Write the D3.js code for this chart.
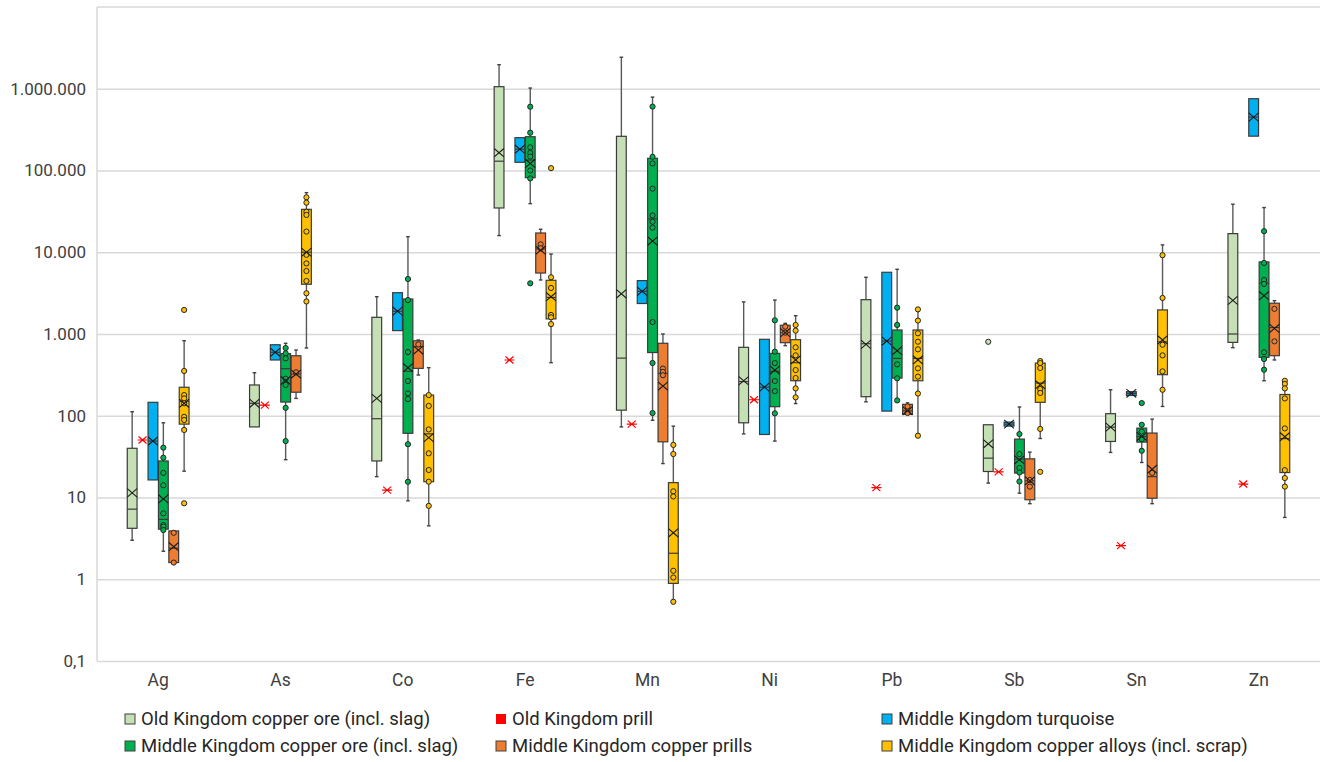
<!DOCTYPE html>
<html>
<head>
<meta charset="utf-8">
<script src="https://cdn.jsdelivr.net/npm/d3@7"></script>
<style>
  body { margin: 0; background: #fff; }
  svg { font-family: Roboto, "Noto Sans", sans-serif; }
</style>
</head>
<body>
<script>
// elements on the x axis
const categories = ["Ag", "As", "Co", "Fe", "Mn", "Ni", "Pb", "Sb", "Sn", "Zn"];
const yTicks = [0.1, 1, 10, 100, 1000, 10000, 100000, 1000000];

const seriesNames = [
    "Old Kingdom copper ore (incl. slag)",
    "Old Kingdom prill",
    "Middle Kingdom turquoise",
    "Middle Kingdom copper ore (incl. slag)",
    "Middle Kingdom copper prills",
    "Middle Kingdom copper alloys (incl. scrap)"
];
const seriesColors = ["#c5e0b4", "#ff0000", "#00b0f0", "#00b050", "#ed7d31", "#ffc000"];

// box stats per element: [min, q1, median, q3, max, mean]
const oldOreBox = [
    [3, 4.2, 7.2, 40, 112, 11.4],
    [73, 73, 142, 238, 336, 142],
    [18, 28, 92, 1600, 2860, 163],
    [16000, 34800, 130000, 1060000, 1970000, 165000],
    [73, 117, 507, 262000, 2430000, 3100],
    [60, 82, 262, 687, 2470, 268],
    [148, 171, 760, 2630, 4940, 747],
    [15, 20.8, 30.3, 77.6, 77.6, 45.4],
    [35.6, 48.5, 72.6, 106, 208, 72.6],
    [680, 790, 1000, 16900, 38700, 2580]
];
const oldOrePoints = [[], [], [], [], [], [], [], [803], [], []];

// single prill values
const oldPrill = [50.5, 135, 12.3, 481, 79, 157, 13.2, 20.6, 2.58, 14.6];

const turquoiseBox = [
    [16.4, 16.4, 49, 146, 146, 49],
    [481, 481, 597, 739, 739, 597],
    [1100, 1100, 1900, 3200, 3200, 1900],
    [126000, 126000, 182000, 252000, 252000, 182000],
    [2360, 2360, 3330, 4500, 4500, 3330],
    [59, 59, 224, 861, 861, 224],
    [114, 114, 820, 5690, 5690, 820],
    [74.7, 74.7, 79, 83.6, 83.6, 79],
    [177, 177, 188, 197, 197, 188],
    [263000, 263000, 450000, 755000, 755000, 450000]
];
const turquoisePoints = [[], [], [], [], [], [], [], [], [], []];

const mkOreBox = [
    [2.2, 4.1, 5.4, 28, 82, 9.6],
    [29, 147, 376, 575, 770, 270],
    [9.1, 61, 350, 2680, 15500, 387],
    [39300, 81700, 134000, 259000, 1020000, 122000],
    [88, 593, 25600, 141000, 790000, 13700],
    [49, 129, 350, 580, 2600, 362],
    [154, 289, 503, 1120, 6190, 625],
    [11.3, 19.9, 29.5, 51.8, 128, 28.9],
    [26.8, 47.6, 55.8, 70.6, 77.6, 55.8],
    [268, 518, 4200, 7620, 35200, 2940]
];
const mkOrePoints = [
    [40.7, 30.7, 20, 14.1, 6.4, 4.6, 4.4, 4.0],
    [674, 580, 504, 284, 238, 125, 49],
    [4710, 2600, 602, 266, 188, 160, 44.8, 15.6],
    [603000, 290000, 192000, 164000, 148000, 100000, 80000, 4170],
    [605000, 147000, 122000, 60000, 28200, 23600, 20000, 1400, 442, 108],
    [1470, 608, 441, 266, 200, 107],
    [2100, 1290, 425, 287, 154],
    [59.7, 34, 23, 20.2, 15.7],
    [143, 77.6, 64, 51.8, 37.3],
    [18100, 7400, 4580, 4100, 597, 494, 366]
];

const prillsBox = [
    [1.6, 1.6, 2.4, 3.9, 3.9, 2.5],
    [163, 194, 324, 542, 637, 324],
    [315, 380, 700, 826, 845, 637],
    [4580, 5570, 11000, 17200, 19100, 10600],
    [26, 48, 330, 770, 1000, 231],
    [720, 783, 1040, 1280, 1350, 1040],
    [104, 104, 115, 138, 144, 115],
    [8.4, 9.4, 16, 29.7, 35.9, 16],
    [8.4, 9.8, 18, 61.4, 91, 22.2],
    [481, 543, 1200, 2380, 2560, 1170]
];
const prillsPoints = [
    [3.7, 1.6],
    [340],
    [747],
    [12500, 11200],
    [378, 344, 313],
    [1230, 1040],
    [130, 108],
    [16.4, 13.6],
    [20],
    [2030, 813]
];

const alloysBox = [
    [21, 79, 150, 223, 828, 142],
    [674, 4060, 10000, 33500, 53600, 10000],
    [4.5, 15.6, 60, 179, 387, 54],
    [446, 1530, 2800, 4540, 9500, 2860],
    [0.53, 0.89, 2.08, 15.2, 74.6, 3.7],
    [141, 268, 446, 852, 1675, 481],
    [57, 268, 503, 1120, 2000, 481],
    [52.7, 146, 251, 441, 467, 240],
    [130, 318, 800, 1970, 12300, 845],
    [5.7, 20.2, 52.5, 182, 268, 55.4]
];
const alloysPoints = [
    [1970, 353, 179, 163, 142, 97, 88.7, 67, 8.5],
    [47000, 40400, 31300, 28600, 17900, 9300, 7300, 5900, 4450, 3150, 2500],
    [179, 132, 68, 34.7, 21.7, 15.6, 7.9],
    [107000, 4940, 3660, 1710, 1600, 1320],
    [44, 34, 11.9, 10.3, 1.27, 1.05, 0.53],
    [1290, 1100, 687, 548, 362, 289, 216, 168],
    [2000, 1460, 1020, 805, 649, 380, 301, 187, 57],
    [467, 441, 384, 212, 190, 69, 20.6],
    [9200, 2760, 739, 548, 349, 208],
    [268, 245, 216, 163, 70, 21.6, 17.3, 13.6]
];

const width = 1329, height = 762;
const plotLeft = 97, plotRight = 1320, plotTop = 7, plotBottom = 661;

const svg = d3.select("body").append("svg")
    .attr("width", width)
    .attr("height", height);

svg.append("rect").attr("width", width).attr("height", height).attr("fill", "#fff");

const y = d3.scaleLog().domain([0.1, 1e7]).range([plotBottom, plotTop]);
const x = d3.scaleBand().domain(categories).range([plotLeft, plotRight])
    .paddingInner(0.49).paddingOuter(0.245);
const xs = d3.scaleBand().domain(d3.range(6)).range([0, x.bandwidth()]);

const locale = d3.formatLocale({ decimal: ",", thousands: ".", grouping: [3], currency: ["", ""] });
const fmt = locale.format(",");

// grid + y labels
const yAxis = svg.append("g")
    .attr("transform", `translate(${plotLeft},0)`)
    .call(d3.axisLeft(y).tickValues(yTicks).tickFormat(fmt).tickSize(-(plotRight - plotLeft)).tickPadding(11));
yAxis.select(".domain").remove();
yAxis.selectAll(".tick line").attr("stroke", "#d9d9d9").attr("stroke-width", 1.5);
yAxis.selectAll(".tick text").attr("fill", "#404040").attr("font-size", 17)
    .attr("font-family", "Roboto, sans-serif");

svg.append("line").attr("x1", plotLeft).attr("x2", plotRight).attr("y1", y(1e7)).attr("y2", y(1e7))
    .attr("stroke", "#d9d9d9").attr("stroke-width", 1.5);
svg.append("line").attr("x1", plotLeft).attr("x2", plotLeft).attr("y1", plotTop).attr("y2", plotBottom)
    .attr("stroke", "#d9d9d9").attr("stroke-width", 1.5);

// category labels
const xAxis = svg.append("g")
    .attr("transform", `translate(0,${plotBottom})`)
    .call(d3.axisBottom(x).tickSize(0).tickPadding(13));
xAxis.select(".domain").remove();
xAxis.selectAll(".tick text").attr("fill", "#404040").attr("font-size", 17.5)
    .attr("font-family", "Roboto, sans-serif");

const plot = svg.append("g");
const bw = xs.bandwidth();

function drawBoxes(boxes, points, idx) {
    const color = seriesColors[idx];
    boxes.forEach((b, j) => {
        const [mn, q1, med, q3, mx, mean] = b;
        const cx = x(categories[j]) + xs(idx) + bw / 2;
        const g = plot.append("g");
        const w = bw - 0.6;
        const stroke = "#3a3a3a";
        if (mx > q3) {
            g.append("line").attr("x1", cx).attr("x2", cx).attr("y1", y(mx)).attr("y2", y(q3))
                .attr("stroke", "#595959").attr("stroke-width", 1.4);
            g.append("line").attr("x1", cx - 1.8).attr("x2", cx + 1.8).attr("y1", y(mx)).attr("y2", y(mx))
                .attr("stroke", "#404040").attr("stroke-width", 1.4);
        }
        if (mn < q1) {
            g.append("line").attr("x1", cx).attr("x2", cx).attr("y1", y(q1)).attr("y2", y(mn))
                .attr("stroke", "#595959").attr("stroke-width", 1.4);
            g.append("line").attr("x1", cx - 1.8).attr("x2", cx + 1.8).attr("y1", y(mn)).attr("y2", y(mn))
                .attr("stroke", "#404040").attr("stroke-width", 1.4);
        }
        g.append("rect")
            .attr("x", cx - w / 2).attr("width", w)
            .attr("y", y(q3)).attr("height", Math.max(1, y(q1) - y(q3)))
            .attr("fill", color).attr("stroke", stroke).attr("stroke-width", 1.2);
        g.append("line").attr("x1", cx - w / 2).attr("x2", cx + w / 2)
            .attr("y1", y(med)).attr("y2", y(med))
            .attr("stroke", stroke).attr("stroke-width", 1.2);
        g.selectAll("circle").data(points[j]).enter().append("circle")
            .attr("cx", cx).attr("cy", d => y(d)).attr("r", 2.6)
            .attr("fill", color).attr("stroke", "#262626").attr("stroke-width", 1);
        const ym = y(mean), hx = w / 2, hy = 4.2;
        g.append("path")
            .attr("d", `M${cx - hx},${ym - hy}L${cx + hx},${ym + hy}M${cx - hx},${ym + hy}L${cx + hx},${ym - hy}`)
            .attr("stroke", "#1a1a1a").attr("stroke-width", 1.1).attr("fill", "none");
    });
}

drawBoxes(oldOreBox, oldOrePoints, 0);
drawBoxes(turquoiseBox, turquoisePoints, 2);
drawBoxes(mkOreBox, mkOrePoints, 3);
drawBoxes(prillsBox, prillsPoints, 4);
drawBoxes(alloysBox, alloysPoints, 5);

// Old Kingdom prill stars
oldPrill.forEach((v, j) => {
    const cx = x(categories[j]) + xs(1) + bw / 2;
    const cy = y(v);
    plot.append("path")
        .attr("d", `M${cx - 4},${cy - 3.5}L${cx + 4},${cy + 3.5}M${cx - 4},${cy + 3.5}L${cx + 4},${cy - 3.5}M${cx - 5},${cy}L${cx + 5},${cy}`)
        .attr("stroke", "#ff0000").attr("stroke-width", 1.2).attr("fill", "none");
});

// legend
const legendCols = [125, 496, 882];
const legendRows = [719, 746];
const legend = svg.append("g");
seriesNames.forEach((name, s) => {
    const lx = legendCols[s % 3], ly = legendRows[Math.floor(s / 3)];
    const item = legend.append("g").attr("transform", `translate(${lx},${ly})`);
    item.append("rect").attr("x", 0).attr("y", -5).attr("width", 10).attr("height", 10)
        .attr("fill", seriesColors[s])
        .attr("stroke", s === 1 ? "none" : "#404040").attr("stroke-width", 1);
    item.append("text").attr("x", 16).attr("y", 0).attr("dy", "0.35em")
        .attr("font-size", 18.5).attr("fill", "#262626")
        .text(name);
});
</script>
</body>
</html>
